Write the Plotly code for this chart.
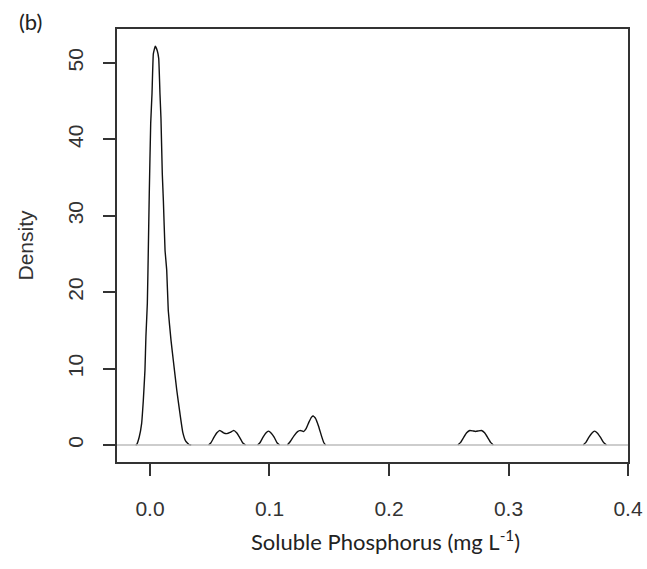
import plotly.graph_objects as go

# ---- data (kernel density curve) ----
peak_x = [-0.0120, -0.0112, -0.0090, -0.0070, -0.0056, -0.0042, -0.0034, -0.0022, -0.0014,
          -0.0006, 0.0006, 0.0017, 0.0028, 0.0044, 0.0061, 0.0073, 0.0084, 0.0092, 0.0103,
          0.0112, 0.0126, 0.0140, 0.0153, 0.0176, 0.0195, 0.0224, 0.0251, 0.0274, 0.0299,
          0.0327, 0.0345]
peak_y = [0.0, 0.05, 1.05, 2.8, 5.8, 9.8, 14.2, 18.6, 25.5,
          32.9, 42.1, 46.0, 51.2, 52.2, 51.6, 50.6, 45.8, 42.7, 35.5,
          32.0, 25.5, 22.9, 17.6, 13.7, 11.1, 7.2, 4.1, 1.7, 0.5,
          0.05, 0.0]

bump1_x = [0.0490, 0.0510, 0.0535, 0.0560, 0.0585, 0.0615, 0.0643, 0.0670, 0.0700,
           0.0725, 0.0750, 0.0775, 0.0800]
bump1_y = [0.0, 0.3, 1.0, 1.6, 1.92, 1.6, 1.5, 1.65, 1.92, 1.6, 1.0, 0.3, 0.0]

bump2_x = [0.0900, 0.0920, 0.0945, 0.0968, 0.0992, 0.1015, 0.1040, 0.1063, 0.1085]
bump2_y = [0.0, 0.3, 1.0, 1.55, 1.82, 1.55, 1.0, 0.3, 0.0]

bump3_x = [0.1150, 0.1175, 0.1205, 0.1235, 0.1258, 0.1285, 0.1305, 0.1330, 0.1352,
           0.1365, 0.1385, 0.1410, 0.1435, 0.1455, 0.1470]
bump3_y = [0.0, 0.5, 1.2, 1.75, 1.92, 1.75, 2.1, 3.0, 3.65, 3.8, 3.5, 2.5, 1.2, 0.3, 0.0]

bump4_x = [0.2576, 0.2600, 0.2625, 0.2650, 0.2676, 0.2700, 0.2725, 0.2750, 0.2774,
           0.2800, 0.2825, 0.2850, 0.2873]
bump4_y = [0.0, 0.35, 1.0, 1.6, 1.9, 1.85, 1.78, 1.85, 1.9, 1.6, 1.0, 0.35, 0.0]

bump5_x = [0.3625, 0.3648, 0.3672, 0.3697, 0.3720, 0.3745, 0.3770, 0.3795, 0.3820]
bump5_y = [0.0, 0.35, 1.0, 1.55, 1.82, 1.55, 1.0, 0.35, 0.0]

x_ticks = [0.0, 0.1, 0.2, 0.3, 0.4]
x_ticklabels = ["0.0", "0.1", "0.2", "0.3", "0.4"]
y_ticks = [0, 10, 20, 30, 40, 50]
y_ticklabels = ["0", "10", "20", "30", "40", "50"]

segments = [(peak_x, peak_y), (bump1_x, bump1_y), (bump2_x, bump2_y),
            (bump3_x, bump3_y), (bump4_x, bump4_y), (bump5_x, bump5_y)]
xs, ys = [], []
for sx, sy in segments:
    xs += list(sx) + [None]
    ys += list(sy) + [None]

W, H = 647, 569
L, R, T, B = 117, 19, 29, 107
PW, PH = W - L - R, H - T - B

fig = go.Figure()
fig.add_trace(go.Scatter(x=xs, y=ys, mode="lines", connectgaps=False,
                         line=dict(color="#111111", width=1.4, shape="spline", smoothing=0.3),
                         showlegend=False, hoverinfo="skip"))

# gray zero line drawn over the curve (as in R's plot.density)
fig.add_shape(type="line", xref="paper", x0=0, x1=1, yref="y", y0=0, y1=0,
              line=dict(color="#bdbdbd", width=1.6), layer="above")

tick_font = dict(family="Liberation Sans, Arial, sans-serif", size=21, color="#333333")

fig.update_layout(
    width=W, height=H,
    margin=dict(l=L, r=R, t=T, b=B, autoexpand=False),
    paper_bgcolor="white", plot_bgcolor="white",
    xaxis=dict(range=[-0.0276, 0.4], tickvals=x_ticks, ticktext=x_ticklabels,
               automargin=False,
               showgrid=False, zeroline=False, showline=True, mirror=True,
               linecolor="#333333", linewidth=1.5,
               ticks="outside", ticklen=12, tickwidth=1.5, tickcolor="#333333",
               tickfont=tick_font, ticklabelstandoff=15),
    yaxis=dict(range=[-2.22, 54.45], tickvals=y_ticks, ticktext=y_ticklabels,
               automargin=False,
               showgrid=False, zeroline=False, showline=True, mirror=True,
               linecolor="#333333", linewidth=1.5,
               ticks="outside", ticklen=12, tickwidth=1.5, tickcolor="#333333",
               tickfont=tick_font, tickangle=-90, ticklabelstandoff=12),
)

fig.add_annotation(text="Density", xref="paper", yref="paper",
                   x=(25 - L) / PW, y=0.5, textangle=-90,
                   showarrow=False, xanchor="center", yanchor="middle",
                   font=dict(family="Liberation Sans, Arial, sans-serif", size=21, color="#333333"))

fig.add_annotation(text="Soluble Phosphorus (mg L<sup>-1</sup>)", xref="paper", yref="paper",
                   x=(385 - L) / PW, y=-(540 - (H - B)) / PH,
                   showarrow=False, xanchor="center", yanchor="middle",
                   font=dict(family="Lato, Open Sans, sans-serif", size=22, color="#222222"))

fig.add_annotation(text="(b)", xref="paper", yref="paper",
                   x=(30 - L) / PW, y=1 + (T - 22) / PH,
                   showarrow=False, xanchor="center", yanchor="middle",
                   font=dict(family="Lato, Open Sans, sans-serif", size=22, color="#222222"))

fig.write_html("out.html", config={"displayModeBar": False},
               post_script="document.body.style.margin='0';")
